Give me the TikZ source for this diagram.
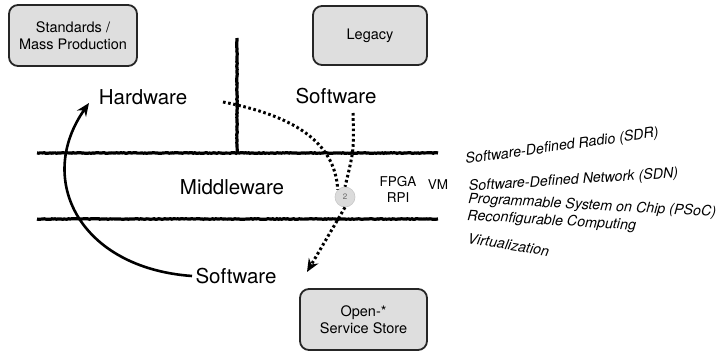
\documentclass[tikz,border=0pt]{standalone}
\usepackage{fontspec}
\setmainfont{TeX Gyre Heros}
\usetikzlibrary{arrows.meta,decorations.pathmorphing}
\begin{document}
\begin{tikzpicture}[x=1pt,y=-1pt,
  box/.style={draw=black!85,line width=1.8pt,rounded corners=9pt,fill=black!13,
    minimum width=#1,align=center,font=\fontsize{14.5}{17}\selectfont,inner sep=0pt},
  layer/.style={line width=3.2pt,decorate,decoration={random steps,segment length=1.5pt,amplitude=0.35pt}},
  big/.style={font=\fontsize{20.5}{24}\selectfont},
  small/.style={font=\fontsize{13.5}{16}\selectfont,align=center},
  side/.style={font=\fontsize{14.3}{16}\selectfont\itshape,anchor=base west,inner sep=0pt},
  dots/.style={line width=3pt,dash pattern=on 2.6pt off 2.6pt},
  tip/.style={-{Stealth[length=13pt,width=11pt]}}
]
\useasboundingbox (0,0) rectangle (728,353);
% boxes
\node[box=128pt,minimum height=61pt] (std) at (73,35.5) {Standards /\\Mass Production};
\node[box=114pt,minimum height=59pt] (leg) at (370,35.5) {Legacy};
\node[box=127pt,minimum height=61pt] (open) at (363.5,319.5) {Open-*\\Service Store};
% layer lines
\coordinate (l1a) at (37,153); \coordinate (l1b) at (438,153);
\coordinate (l2a) at (37,219); \coordinate (l2b) at (438,219);
\coordinate (va) at (237,38); \coordinate (vb) at (237,153);
\draw[layer] (l1a) -- (l1b);
\draw[layer] (l2a) -- (l2b);
\draw[layer] (va) -- (vb);
% labels
\node[big] (hw) at (143,97) {Hardware};
\node[big] (swt) at (336,96) {Software};
\node[big] (mw) at (232,187) {Middleware};
\node[big] (swb) at (236,276) {Software};
\node[small] (fpga) at (398,189) {FPGA\\RPI};
\node[small] (vm) at (438,185) {VM};
% circle
\node[circle,fill=black!14,draw=black!22,line width=0.6pt,minimum size=20pt,inner sep=0pt,
  font=\fontsize{8}{9}\selectfont,text=black!60] (two) at (345,197) {2};
% connectors
\coordinate (hwend) at (89,103);
\draw[line width=2.6pt,tip] (swb.west) .. controls (80,268) and (35,180) .. (hwend);
\coordinate (d1) at (223,102);
\coordinate (d2) at (353,113);
\coordinate (swend) at (307,272);
\draw[dots] (d1) .. controls (290,115) and (335,140) .. (two.north west);
\draw[dots] (d2) .. controls (354,150) .. (two.north);
\draw[dots,tip] (two.south) -- (swend);
% side texts
\node[side,rotate=8] (sdr) at (466,164) {Software-Defined Radio (SDR)};
\node[side,rotate=3.7] (sdn) at (469,191) {Software-Defined Network (SDN)};
\node[side,rotate=-3.1] (psoc) at (468,203) {Programmable System on Chip (PSoC)};
\node[side,rotate=-3.4] (rc) at (467,220) {Reconfigurable Computing};
\node[side,rotate=-9.5] (virt) at (467,243) {Virtualization};
\end{tikzpicture}
\end{document}
